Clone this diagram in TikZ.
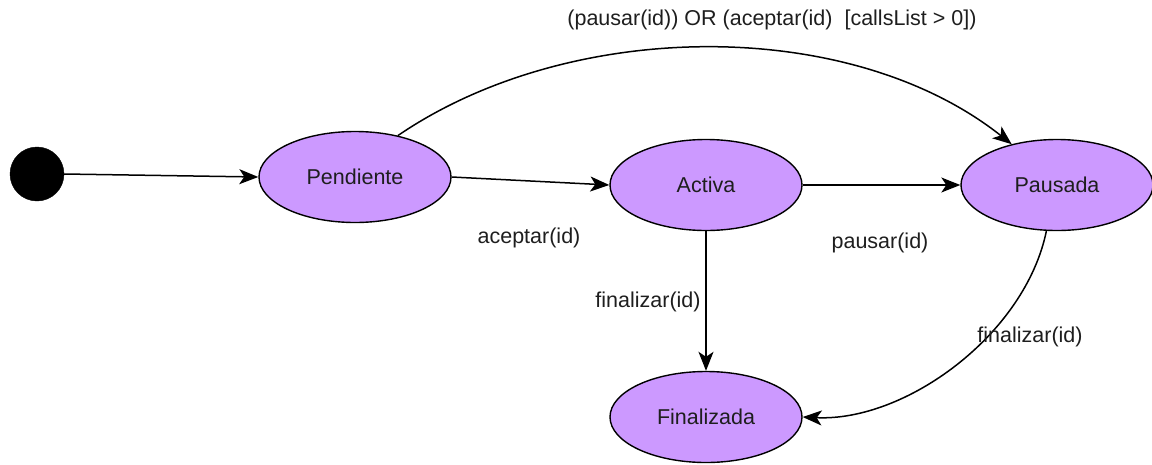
\documentclass[tikz,border=0pt]{standalone}
\usepackage{fontspec}
\setmainfont{Liberation Sans}
\usetikzlibrary{shapes.geometric,arrows.meta}
\definecolor{statefill}{RGB}{204,153,255}
\definecolor{inkgray}{RGB}{30,30,30}
\begin{document}
\begin{tikzpicture}[x=1pt,y=-1pt,
  state/.style={ellipse,draw=black,line width=1.4pt,fill=statefill,
    minimum width=192pt,minimum height=91pt,inner sep=0pt,
    font=\fontsize{21.5}{25}\selectfont,text=inkgray},
  initial/.style={circle,fill=black,draw=black,minimum size=54pt,inner sep=0pt},
  trans/.style={draw=black,line width=1.5pt,
    -{Stealth[length=19pt,width=15pt,inset=5pt]}},
  lbl/.style={font=\fontsize{21.5}{25}\selectfont,text=inkgray,inner sep=0pt}]
\useasboundingbox (0,0) rectangle (1152,464);

% states
\node[initial] (ini) at (37,174) {};
\node[state] (pend) at (355,177) {Pendiente};
\node[state] (act)  at (706,185) {Activa};
\node[state] (paus) at (1057,185) {Pausada};
\node[state] (fin)  at (706,417) {Finalizada};

% transitions
\draw[trans] (ini.east) -- (pend.west);
\draw[trans] (pend.east) -- (act.west);
\draw[trans] (act.east) -- (paus.west);
\draw[trans] (act.south) -- (fin.north);
\draw[trans] (pend.44) .. controls (570,18) and (850,16) .. (paus.138);
\draw[trans] (paus.257) .. controls (1025,335) and (905,422) .. (fin.east);

% transition labels
\node[lbl] (lpp)  at (772,20)  {(pausar(id)) OR (aceptar(id)\ \ [callsList > 0])};
\node[lbl] (lacc) at (529,238) {aceptar(id)};
\node[lbl] (lpau) at (880,243) {pausar(id)};
\node[lbl] (lfa)  at (648,302) {finalizar(id)};
\node[lbl] (lfp)  at (1030,337) {finalizar(id)};
\end{tikzpicture}
\end{document}
